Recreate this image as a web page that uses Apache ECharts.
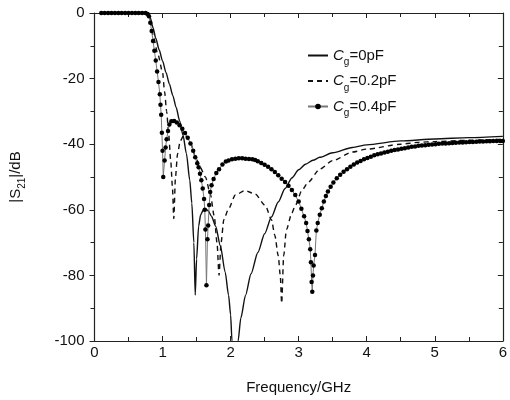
<!DOCTYPE html>
<html>
<head>
<meta charset="utf-8">
<script src="https://cdn.jsdelivr.net/npm/echarts@6/dist/echarts.min.js"></script>
<style>
html,body{margin:0;padding:0;background:#fff;}
#chart{width:510px;height:400px;}
</style>
</head>
<body>
<div id="chart"></div>
<script>
// Tick labels
const xTicks = [0, 1, 2, 3, 4, 5, 6];
const yTicks = [0, -20, -40, -60, -80, -100];

// Series names
const seriesNames = ['Cg=0pF', 'Cg=0.2pF', 'Cg=0.4pF'];

// Cg = 0 pF (solid)
const freq0 = [0.1,0.5,0.75,0.78,0.82,0.86,0.90,0.95,1.00,1.05,1.10,1.15,1.20,1.25,1.30,1.35,1.40,1.43,1.46,1.48,1.50,1.53,1.56,1.60,1.63,1.67,1.72,1.78,1.85,1.92,1.97,2.00,2.02,2.065,2.11,2.15,2.22,2.30,2.40,2.50,2.60,2.70,2.80,2.90,3.00,3.10,3.21,3.31,3.50,3.79,4.00,4.50,5.00,5.50,6.00];
const s21_0 = [0,0,0,-0.2,-1.5,-4.5,-7.7,-11.2,-14.6,-18.1,-21.6,-25.1,-28.8,-32.8,-37.2,-42.8,-51,-58,-70,-86,-75,-65,-61.5,-60,-59.7,-60.3,-62,-65,-71,-79,-86,-92,-100,-110,-100,-93,-86,-79.5,-73,-67.3,-62.2,-57.6,-53.5,-50.3,-47.8,-46.1,-44.9,-44.0,-42.6,-41.0,-40.2,-39.0,-38.4,-38.0,-37.6];

// Cg = 0.2 pF (dashed)
const freq02 = [0.1,0.5,0.75,0.78,0.82,0.87,0.93,1.00,1.03,1.06,1.09,1.12,1.145,1.165,1.19,1.22,1.26,1.32,1.40,1.48,1.55,1.63,1.70,1.76,1.80,1.83,1.86,1.90,1.97,2.07,2.21,2.36,2.51,2.60,2.65,2.70,2.73,2.75,2.78,2.82,2.90,2.95,3.05,3.14,3.31,3.50,3.79,4.00,4.50,4.77,5.00,5.50,6.00];
const s21_02 = [0,0,0,-0.3,-2.5,-7.7,-12.5,-18,-24,-30,-37,-45,-53,-62.7,-50,-43,-39,-37,-39,-43.5,-47,-50,-55,-62,-70,-80,-70,-63,-59.7,-55.5,-54.1,-55.2,-58.7,-63,-67.8,-74,-80,-88.5,-74,-66,-61,-58.7,-54,-51.6,-47.6,-45,-42.4,-41.5,-40,-39.4,-39.2,-38.8,-38.5];

// Cg = 0.4 pF (dots)
const freq04 = [0.10,0.15,0.20,0.25,0.30,0.35,0.40,0.45,0.50,0.55,0.60,0.65,0.70,0.75,
  0.78,0.80,0.82,0.84,0.86,0.88,0.90,0.92,0.94,0.96,0.97,0.98,0.99,1.00,1.01,1.03,1.045,1.06,1.08,1.10,
  1.13,1.17,1.21,1.25,1.29,1.33,1.37,1.41,1.45,1.48,1.51,1.53,1.55,1.57,1.59,1.61,1.62,1.63,1.645,
  1.66,1.67,1.685,1.70,1.72,1.75,1.79,1.83,1.88,1.93,1.97,2.02,2.07,2.12,2.17,2.22,2.27,2.32,2.36,
  2.40,2.45,2.50,2.55,2.60,2.65,2.70,2.75,2.80,2.85,2.90,2.95,3.00,3.04,3.08,3.11,3.13,3.15,3.17,
  3.18,3.19,3.20,3.21,3.22,3.24,3.26,3.28,3.31,3.34,3.37,3.40,3.43,3.47,3.51,3.56,3.61,3.66,3.71,
  3.76,3.81,3.86,3.91,3.96,4.01,4.06,4.11,4.16,4.21,4.26,4.31,4.36,4.41,4.46,4.51,4.56,4.61,4.66,
  4.71,4.76,4.81,4.86,4.91,4.96,5.01,5.06,5.11,5.16,5.21,5.26,5.31,5.36,5.41,5.46,5.51,5.56,5.61,
  5.66,5.71,5.76,5.81,5.86,5.91,5.96,6.00];
const s21_04 = [0,0,0,0,0,0,0,0,0,0,0,0,0,0,
  -0.3,-1,-3,-5.5,-8.5,-11.5,-14.5,-17.8,-21,-24.8,-28,-31,-36.5,-42,-50,-45,-41,-38.5,-36,-34,
  -33,-32.9,-33.4,-34.2,-35.3,-36.6,-38,-39.8,-42,-44,-45.8,-47,-49,-51,-53.5,-56.7,-60,-66,-83,
  -69,-64.8,-58.5,-54.6,-52.5,-50.6,-48.8,-47.6,-46.2,-45.3,-45,-44.6,-44.4,-44.3,-44.3,-44.4,-44.5,-44.6,-44.8,
  -45.2,-45.7,-46.3,-46.9,-47.6,-48.5,-49.5,-50.5,-51.5,-52.7,-54,-55.5,-57.5,-59.7,-62,-64,-66.5,-69,-72,
  -76,-82,-85,-80,-77,-73.8,-66.3,-64,-61.5,-59.5,-57.5,-55.8,-54.4,-53,-51.7,-50.4,-49.3,-48.4,-47.6,
  -46.9,-46.2,-45.6,-45.1,-44.6,-44.2,-43.8,-43.4,-43.1,-42.8,-42.5,-42.3,-42.0,-41.8,-41.6,-41.4,-41.2,-41.0,-40.8,
  -40.7,-40.5,-40.4,-40.3,-40.2,-40.1,-40.0,-39.9,-39.8,-39.75,-39.7,-39.6,-39.55,-39.5,-39.45,-39.4,-39.35,-39.3,-39.25,
  -39.2,-39.15,-39.1,-39.1,-39.05,-39.0,-39.0,-39.0];

const zip = (xs, ys) => xs.map((x, i) => [x, ys[i]]);

const FONT = 'Liberation Sans, Arial, sans-serif';
const chart = echarts.init(document.getElementById('chart'), null, {renderer: 'canvas'});

const legendRich = {
  c: {fontStyle: 'italic', fontSize: 15, fontFamily: FONT, color: '#111'},
  g: {fontSize: 10, fontFamily: FONT, color: '#111', verticalAlign: 'bottom', lineHeight: 24},
  t: {fontSize: 15, fontFamily: FONT, color: '#111'}
};
const hiddenDot = {color: 'rgba(0,0,0,0)', borderColor: 'rgba(0,0,0,0)', borderWidth: 0, opacity: 0};

chart.setOption({
  animation: false,
  backgroundColor: '#fff',
  grid: {left: 93.5, right: 6, top: 13, bottom: 57, containLabel: false},
  legend: {
    orient: 'vertical',
    left: 302,
    top: 43,
    itemWidth: 20,
    itemHeight: 7,
    itemGap: 6,
    data: [
      {name: seriesNames[0], itemStyle: hiddenDot},
      {name: seriesNames[1], itemStyle: hiddenDot},
      {name: seriesNames[2]}
    ],
    formatter: function (name) {
      const rest = name.slice(2);
      return '{c|C}{g|g}{t|' + rest + '}';
    },
    textStyle: {rich: legendRich}
  },
  xAxis: [{
    type: 'value',
    min: 0, max: 6, interval: 1,
    position: 'bottom',
    name: 'Frequency/GHz',
    nameLocation: 'middle',
    nameGap: 39,
    nameTextStyle: {fontFamily: FONT, fontSize: 15, color: '#111'},
    axisLine: {show: true, onZero: false, lineStyle: {color: '#222', width: 1.2}},
    axisTick: {show: true, inside: true, length: 5, lineStyle: {color: '#222'}},
    minorTick: {show: true, splitNumber: 2, length: 4, lineStyle: {color: '#222'}},
    axisLabel: {fontFamily: FONT, fontSize: 15, color: '#111', margin: 4,
      formatter: v => xTicks.includes(v) ? String(v) : ''},
    splitLine: {show: false}
  }, {
    type: 'value',
    min: 0, max: 6, interval: 1,
    position: 'top',
    axisLine: {show: true, onZero: false, lineStyle: {color: '#222', width: 1.2}},
    axisTick: {show: true, inside: true, length: 5, lineStyle: {color: '#222'}},
    minorTick: {show: true, splitNumber: 2, length: 4, lineStyle: {color: '#222'}},
    axisLabel: {show: false},
    splitLine: {show: false}
  }],
  yAxis: [{
    type: 'value',
    min: -100, max: 0, interval: 20,
    position: 'left',
    name: '|S{sub|21}|/dB',
    nameLocation: 'middle',
    nameGap: 67,
    nameRotate: 90,
    nameTextStyle: {fontFamily: FONT, fontSize: 15, color: '#111',
      rich: {sub: {fontSize: 10, fontFamily: FONT, color: '#111', verticalAlign: 'bottom', lineHeight: 24}}},
    axisLine: {show: true, onZero: false, lineStyle: {color: '#222', width: 1.2}},
    axisTick: {show: true, inside: false, length: 5, lineStyle: {color: '#222'}},
    minorTick: {show: true, splitNumber: 2, length: 4, lineStyle: {color: '#222'}},
    axisLabel: {fontFamily: FONT, fontSize: 15, color: '#111', margin: 10,
      formatter: v => yTicks.includes(v) ? String(v) : ''},
    splitLine: {show: false}
  }, {
    type: 'value',
    min: -100, max: 0, interval: 20,
    position: 'right',
    axisLine: {show: true, onZero: false, lineStyle: {color: '#222', width: 1.2}},
    axisTick: {show: true, inside: true, length: 5, lineStyle: {color: '#222'}},
    minorTick: {show: true, splitNumber: 2, length: 4, lineStyle: {color: '#222'}},
    axisLabel: {show: false},
    splitLine: {show: false}
  }],
  series: [{
    name: seriesNames[0],
    type: 'line',
    data: zip(freq0, s21_0),
    showSymbol: false,
    symbol: 'none',
    smooth: 0.25,
    smoothMonotone: 'x',
    clip: true,
    lineStyle: {color: '#111', width: 1.4, type: 'solid'},
    itemStyle: {color: '#111'}
  }, {
    name: seriesNames[1],
    type: 'line',
    data: zip(freq02, s21_02),
    showSymbol: false,
    symbol: 'none',
    smooth: 0.25,
    smoothMonotone: 'x',
    clip: true,
    lineStyle: {color: '#111', width: 1.4, type: [5, 4]},
    itemStyle: {color: '#111'}
  }, {
    name: seriesNames[2],
    type: 'line',
    data: zip(freq04, s21_04),
    symbol: 'circle',
    symbolSize: 4.5,
    showSymbol: true,
    clip: true,
    lineStyle: {color: '#777', width: 1},
    itemStyle: {color: '#000', borderWidth: 0}
  }]
});
</script>
</body>
</html>
